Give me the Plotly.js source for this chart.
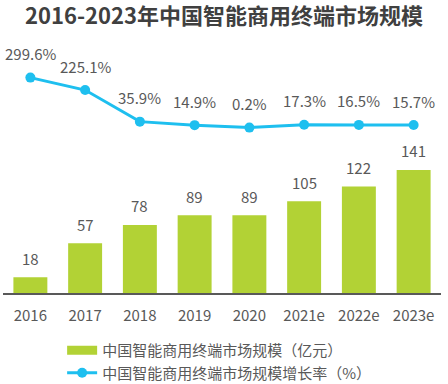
<!DOCTYPE html>
<html><head><meta charset="utf-8">
<script src="https://cdn.plot.ly/plotly-3.0.1.min.js"></script>
<style>html,body{margin:0;padding:0;background:#fff}#c{width:448px;height:384px}</style>
</head><body><div id="c"></div>
<script>
const years = ['2016','2017','2018','2019','2020','2021e','2022e','2023e'];
const marketSize = [18, 57, 78, 89, 89, 105, 122, 141];
const growthRate = [299.6, 225.1, 35.9, 14.9, 0.2, 17.3, 16.5, 15.7];
const barName = '中国智能商用终端市场规模（亿元）';
const lineName = '中国智能商用终端市场规模增长率（%）';
const titleText = '2016-2023年中国智能商用终端市场规模';

const FONT = '"Noto Sans CJK SC", sans-serif';
const barColor = '#B2D235';
const lineColor = '#1EBFEF';
const textColor = '#595959';
const idx = years.map((_, i) => i);

const traces = [
  {type:'bar', x:idx, y:marketSize, name:barName, marker:{color:barColor}, hoverinfo:'none', showlegend:false},
  {type:'scatter', mode:'lines', x:[null], y:[null], name:barName, line:{color:barColor, width:9}, hoverinfo:'none', showlegend:true},
  {type:'scatter', mode:'lines+markers', x:idx, y:growthRate, yaxis:'y2', name:lineName,
   line:{color:lineColor, width:3}, marker:{color:lineColor, size:10}, hoverinfo:'none', showlegend:true}
];

const ann = [];
idx.forEach(i=>{
  ann.push({x:i, y:marketSize[i], xref:'x', yref:'y', text:String(marketSize[i]), showarrow:false,
    yshift:19, yanchor:'middle', font:{family:FONT, size:15, color:textColor}});
  ann.push({x:i, y:growthRate[i], xref:'x', yref:'y2', text:growthRate[i].toFixed(1)+'%', showarrow:false,
    yshift:24, yanchor:'middle', font:{family:FONT, size:15, color:textColor}});
});

const layout = {
  width:448, height:384,
  margin:{l:3, r:7, t:60, b:91, autoexpand:false},
  paper_bgcolor:'#fff', plot_bgcolor:'#fff',
  title:{text:'<b>'+titleText+'</b>', x:0.5, xanchor:'center', yref:'container', y:0.957, yanchor:'middle',
    font:{family:FONT, size:22, color:'#404040'}},
  font:{family:FONT, size:15, color:textColor},
  bargap:0.38,
  showlegend:true,
  legend:{orientation:'v', x:0.135, xanchor:'left', y:-0.176, yanchor:'top', traceorder:'normal',
    font:{family:FONT, size:15, color:textColor}, tracegroupgap:0, bgcolor:'rgba(0,0,0,0)'},
  xaxis:{range:[-0.5, 7.5], tickvals:idx, ticktext:years, showgrid:false, zeroline:false, showline:true,
    linecolor:'#595959', linewidth:1.5, ticks:'outside', ticklen:8, tickcolor:'rgba(0,0,0,0)',
    tickfont:{family:FONT, size:15, color:textColor}},
  yaxis:{range:[0,267], showgrid:false, zeroline:false, showticklabels:false, showline:false},
  yaxis2:{range:[-990,405], overlaying:'y', side:'right', showgrid:false, zeroline:false, showticklabels:false, showline:false},
  annotations:ann
};
Plotly.newPlot('c', traces, layout, {displayModeBar:false, staticPlot:true});
</script></body></html>
